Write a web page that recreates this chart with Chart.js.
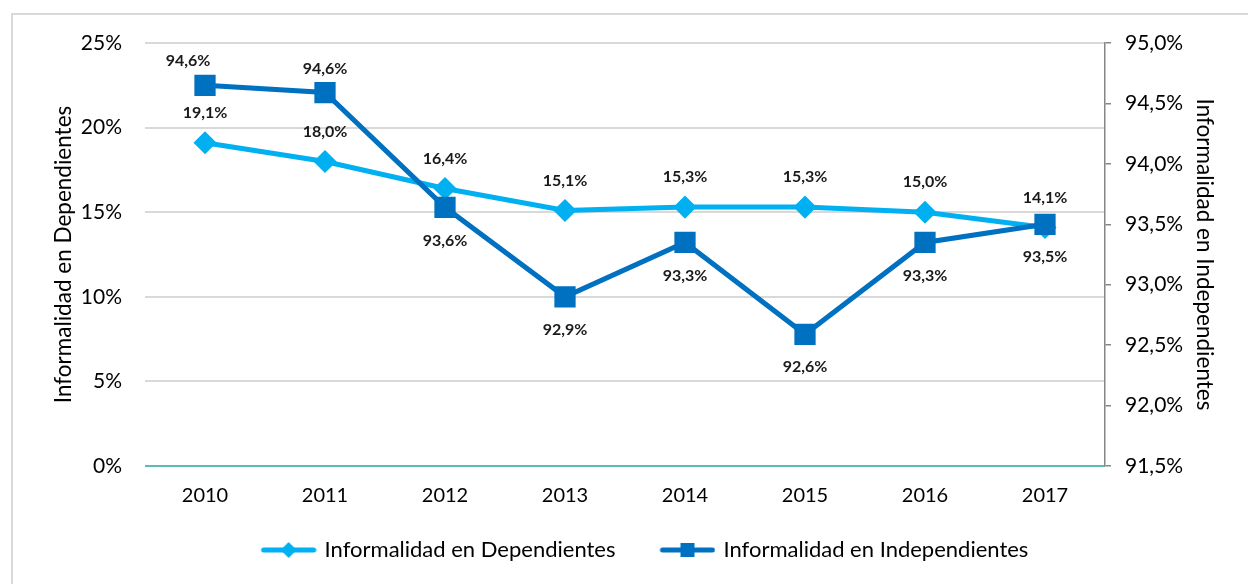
<!DOCTYPE html>
<html>
<head>
<meta charset="utf-8">
<script src="https://cdn.jsdelivr.net/npm/chart.js@4"></script>
<style>
  body { margin: 0; background: #fff; overflow: hidden; }
  #frame { position: absolute; left: 11px; top: 13px; width: 1250px; height: 590px; border: 2px solid #d9d9d9; }
  #graph { position: absolute; left: 0; top: 0; }
</style>
</head>
<body>
<div id="frame"></div>
<canvas id="graph" width="1248" height="584"></canvas>
<script>
// datos
const years = ['2010', '2011', '2012', '2013', '2014', '2015', '2016', '2017'];
const dependientes = [19.1, 18.0, 16.4, 15.1, 15.3, 15.3, 15.0, 14.1];
const independientes = [94.65, 94.59, 93.64, 92.9, 93.35, 92.59, 93.35, 93.5];
const indepLabels = ['94,6%', '94,6%', '93,6%', '92,9%', '93,3%', '92,6%', '93,3%', '93,5%'];
const depLabels = ['19,1%', '18,0%', '16,4%', '15,1%', '15,3%', '15,3%', '15,0%', '14,1%'];
const indepLabelPos = ['above', 'above', 'below', 'below', 'below', 'below', 'below', 'below'];

const celeste = '#00b0f0', azul = '#0070c0';
const fontFam = 'Lato, "Open Sans", sans-serif';

// icono de la leyenda: hueco a la izquierda, luego linea + marcador
function legendIcon(color, style) {
    const c = document.createElement('canvas');
    c.width = 80; c.height = 20;
    const g = c.getContext('2d');
    g.strokeStyle = color; g.lineWidth = 5; g.lineCap = 'round';
    g.beginPath(); g.moveTo(27, 10); g.lineTo(77, 10); g.stroke();
    g.fillStyle = color;
    const cx = 52;
    if (style === 'diamond') {
        g.beginPath(); g.moveTo(cx, 2); g.lineTo(cx + 8, 10); g.lineTo(cx, 18); g.lineTo(cx - 8, 10); g.closePath(); g.fill();
    } else {
        g.fillRect(cx - 7, 3, 14, 14);
    }
    return c;
}

// etiquetas de datos
const dataLabels = {
    id: 'dataLabels',
    afterDatasetsDraw(chart) {
        const ctx = chart.ctx;
        ctx.save();
        ctx.font = 'bold 16px ' + fontFam;
        ctx.fillStyle = '#1a1a1a';
        ctx.textAlign = 'center';
        ctx.textBaseline = 'middle';
        chart.getDatasetMeta(0).data.forEach((p, i) => {
            ctx.fillText(depLabels[i], p.x, p.y - 30);
        });
        chart.getDatasetMeta(1).data.forEach((p, i) => {
            const dy = indepLabelPos[i] === 'above' ? -24 : 33;
            const dx = i === 0 ? -17 : 0;
            ctx.fillText(indepLabels[i], p.x + dx, p.y + dy);
        });
        ctx.restore();
    }
};

const pct = v => v.toFixed(1).replace('.', ',') + '%';

new Chart(document.getElementById('graph'), {
    type: 'line',
    data: {
        labels: years,
        datasets: [
            {
                label: 'Informalidad en Dependientes',
                data: dependientes,
                yAxisID: 'y',
                borderColor: celeste,
                backgroundColor: celeste,
                borderWidth: 5,
                pointStyle: 'rectRot',
                pointRadius: 8,
                order: 1
            },
            {
                label: 'Informalidad en Independientes',
                data: independientes,
                yAxisID: 'y1',
                borderColor: azul,
                backgroundColor: azul,
                borderWidth: 5,
                pointStyle: 'rect',
                pointRadius: 11.5,
                order: 0
            }
        ]
    },
    options: {
        responsive: false,
        animation: false,
        events: [],
        layout: { padding: { left: 50, right: 30, top: 43, bottom: 13 } },
        scales: {
            x: {
                offset: true,
                grid: { display: false },
                border: { display: false },
                ticks: { color: '#000', font: { family: fontFam, size: 20 }, padding: 10 },
                afterFit(s) { s.height = 50; }
            },
            y: {
                position: 'left',
                min: 0, max: 25,
                ticks: { stepSize: 5, color: '#000', font: { family: fontFam, size: 21 }, padding: 23, callback: v => v + '%' },
                grid: {
                    drawTicks: false,
                    lineWidth: 2,
                    color: c => c.tick && c.tick.value === 0 ? '#5bbcb6' : '#d9d9d9'
                },
                border: { display: false },
                title: { display: true, text: 'Informalidad en Dependientes', color: '#000', font: { family: fontFam, size: 22.5 }, padding: 0 },
                afterFit(s) { s.width = 95; }
            },
            y1: {
                position: 'right',
                min: 91.5, max: 95,
                ticks: { stepSize: 0.5, color: '#000', font: { family: fontFam, size: 21 }, padding: 14, callback: v => pct(v) },
                grid: { drawOnChartArea: false, tickLength: 6, color: '#868686', tickColor: '#868686', lineWidth: 1.5 },
                border: { display: true, color: '#868686', width: 1.5 },
                title: { display: true, text: 'Informalidad en Independientes', color: '#000', font: { family: fontFam, size: 22.5 }, padding: 0 },
                afterFit(s) { s.width = 113; }
            }
        },
        plugins: {
            tooltip: { enabled: false },
            legend: {
                position: 'bottom',
                labels: {
                    usePointStyle: true,
                    pointStyleWidth: 74,
                    padding: 23,
                    color: '#000',
                    font: { family: fontFam, size: 22 },
                    generateLabels(chart) {
                        return [
                            { text: 'Informalidad en Dependientes', datasetIndex: 0, pointStyle: legendIcon(celeste, 'diamond'), fillStyle: celeste, strokeStyle: celeste, lineWidth: 0, fontColor: '#000' },
                            { text: 'Informalidad en Independientes', datasetIndex: 1, pointStyle: legendIcon(azul, 'rect'), fillStyle: azul, strokeStyle: azul, lineWidth: 0, fontColor: '#000' }
                        ];
                    }
                }
            }
        }
    },
    plugins: [dataLabels]
});
</script>
</body>
</html>
